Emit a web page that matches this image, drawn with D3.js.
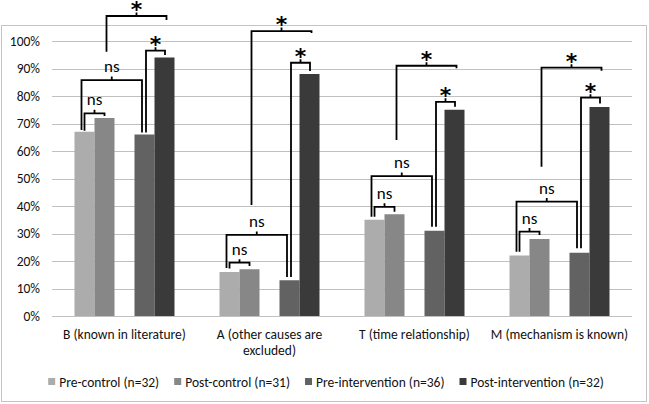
<!DOCTYPE html>
<html>
<head>
<meta charset="utf-8">
<script src="https://d3js.org/d3.v7.min.js"></script>
<style>
  body { margin: 0; background: #fff; }
  svg text { font-family: Carlito, Lato, "Liberation Sans", sans-serif; }
</style>
</head>
<body>
<div id="container"></div>
<script>
// chart values
const categories = ["B (known in literature)", "A (other causes are excluded)", "T (time relationship)", "M (mechanism is known)"];
const seriesNames = ["Pre-control (n=32)", "Post-control (n=31)", "Pre-intervention (n=36)", "Post-intervention (n=32)"];
const preControl       = [67, 16, 35, 22];
const postControl      = [72, 17, 37, 28];
const preIntervention  = [66, 13, 31, 23];
const postIntervention = [94, 88, 75, 76];
const yTicks = [0, 10, 20, 30, 40, 50, 60, 70, 80, 90, 100];

// significance brackets: group, from series, to series, label, level %, left leg end %, right leg end %
const brackets = [
  [0, 0, 1, "ns", 73.7, 67.4, 72.7],
  [0, 0, 2, "ns", 85.8, 67.6, 66.7],
  [0, 2, 3, "*",  96.5, 66.7, 94.9],
  [0, 1, 3, "*", 109.1, 96.1, 107.6],
  [1, 0, 1, "ns", 19.4, 17.3, 18.2],
  [1, 0, 2, "ns", 29.5, 17.5, 14.2],
  [1, 2, 3, "*",  92.1, 14.2, 89.1],
  [1, 1, 3, "*", 103.6, 40.4, 102.9],
  [2, 0, 1, "ns", 39.7, 36.1, 37.9],
  [2, 0, 2, "ns", 50.9, 36.1, 32.5],
  [2, 2, 3, "*",  77.9, 32.5, 76.1],
  [2, 1, 3, "*",  91.0, 64.0, 90.1],
  [3, 0, 1, "ns", 30.7, 23.4, 29.5],
  [3, 0, 2, "ns", 41.6, 23.4, 24.6],
  [3, 2, 3, "*",  79.4, 24.6, 77.3],
  [3, 1, 3, "*",  90.3, 54.3, 89.2]
];

const series = [preControl, postControl, preIntervention, postIntervention];
const colors = ["#acacac", "#878787", "#626262", "#3a3a3a"];

const width = 649, height = 404;
const margin = { top: 41, right: 17, bottom: 88, left: 52 };

const svg = d3.select('#container').append('svg')
  .attr('width', width).attr('height', height);

// chart border
svg.append('rect')
  .attr('x', 1.5).attr('y', 25.5)
  .attr('width', 645).attr('height', 376)
  .attr('fill', 'none').attr('stroke', '#c4c4c4');

const x0 = d3.scaleBand().domain(categories)
  .range([margin.left, width - margin.right])
  .paddingInner(45 / 145).paddingOuter(22.5 / 145);

// 5 slots, the middle one stays empty
const slots = ["s0", "s1", "gap", "s2", "s3"];
const x1 = d3.scaleBand().domain(slots).range([0, x0.bandwidth()]);
const slotOf = i => slots[i < 2 ? i : i + 1];

const y = d3.scaleLinear().domain([0, 100]).range([height - margin.bottom, margin.top]);

// grid
svg.append('g')
  .selectAll('line').data(yTicks).join('line')
  .attr('x1', margin.left).attr('x2', width - margin.right)
  .attr('y1', d => Math.round(y(d)) + 0.5).attr('y2', d => Math.round(y(d)) + 0.5)
  .attr('stroke', '#c0c0c0').attr('stroke-width', 1.2);

// y axis
const yAxis = d3.axisLeft(y).tickValues(yTicks).tickFormat(d => d + '%').tickSize(0).tickPadding(12);
const ya = svg.append('g').attr('transform', `translate(${margin.left},0)`).call(yAxis);
ya.select('.domain').remove();
ya.selectAll('text').attr('font-size', 13.5).attr('fill', '#111');

// bars
const groups = svg.append('g').selectAll('g').data(categories).join('g')
  .attr('transform', d => `translate(${x0(d)},0)`);
groups.selectAll('rect')
  .data((d, gi) => series.map((s, si) => ({ si, v: s[gi] })))
  .join('rect')
  .attr('x', d => x1(slotOf(d.si)))
  .attr('width', x1.bandwidth())
  .attr('y', d => y(d.v))
  .attr('height', d => y(0) - y(d.v))
  .attr('fill', d => colors[d.si]);

// x axis labels
const xAxis = d3.axisBottom(x0).tickSize(0).tickPadding(13);
const xa = svg.append('g').attr('transform', `translate(0,${y(0)})`).call(xAxis);
xa.select('.domain').remove();
xa.selectAll('text').attr('font-size', 13.5).attr('fill', '#111').call(wrap, 150);

function wrap(texts, w) {
  texts.each(function () {
    const t = d3.select(this);
    const words = t.text().split(/\s+/);
    const yv = t.attr('y'), dy = parseFloat(t.attr('dy'));
    t.text(null);
    let line = [], lineNo = 0;
    let ts = t.append('tspan').attr('x', 0).attr('y', yv).attr('dy', dy + 'em');
    for (const word of words) {
      line.push(word);
      ts.text(line.join(' '));
      if (ts.node().getComputedTextLength() > w && line.length > 1) {
        line.pop();
        ts.text(line.join(' '));
        line = [word];
        lineNo++;
        ts = t.append('tspan').attr('x', 0).attr('y', yv)
          .attr('dy', (lineNo * 1.2 + dy) + 'em').text(word);
      }
    }
  });
}

// brackets
const barCenter = (gi, si) => x0(categories[gi]) + x1(slotOf(si)) + x1.bandwidth() / 2;
const ann = svg.append('g');
brackets.forEach(([gi, a, b, label, level, lEnd, rEnd]) => {
  let dl = 0, dr = 0;
  if (a === 0 && b === 2) { dl = -3; dr = -2.5; }
  if (a === 2 && b === 3) { dl = 1.5; dr = 0.5; }
  if (a === 1 && b === 3) { dl = 2; dr = 2; }
  const xl = barCenter(gi, a) + dl, xr = barCenter(gi, b) + dr;
  const yl = y(level), xm = (xl + xr) / 2;
  ann.append('path')
    .attr('d', `M${xl},${y(lEnd)}V${yl}H${xr}V${y(rEnd)}M${xm},${yl}v-3.5`)
    .attr('fill', 'none').attr('stroke', '#000').attr('stroke-width', 1.8);
  const star = label === '*';
  ann.append('text')
    .attr('x', xm)
    .attr('y', star ? yl + 1 : yl - 8)
    .attr('text-anchor', 'middle')
    .attr('font-size', star ? 22 : 17)
    .attr('font-weight', star ? 'bold' : 'normal')
    .style('font-family', star ? '"DejaVu Sans", sans-serif' : null)
    .attr('fill', '#000')
    .text(label);
});

// legend
const legend = svg.append('g');
let lx = 0;
const items = legend.selectAll('g').data(seriesNames).join('g');
items.append('rect').attr('width', 7).attr('height', 7).attr('y', -4)
  .attr('fill', (d, i) => colors[i]);
items.append('text').attr('x', 11).attr('dy', '0.35em')
  .attr('font-size', 13.5).attr('fill', '#111').text(d => d);
items.each(function () {
  const g = d3.select(this);
  g.attr('transform', `translate(${lx},0)`);
  lx += 11 + g.select('text').node().getComputedTextLength() + 15;
});
lx -= 15;
legend.attr('transform', `translate(${326 - lx / 2},382)`);
</script>
</body>
</html>
